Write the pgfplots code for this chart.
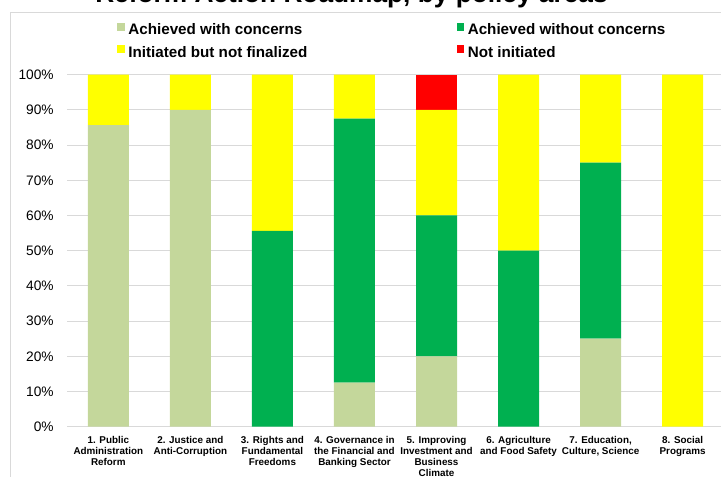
\documentclass[border=0pt]{standalone}
\usepackage{fontspec}
\setmainfont{Liberation Sans}
\usepackage{pgfplots}
\pgfplotsset{compat=1.18}
\definecolor{cwith}{HTML}{C4D79B}
\definecolor{cwithout}{HTML}{00B050}
\definecolor{cinit}{HTML}{FFFF00}
\definecolor{cnot}{HTML}{FF0000}
\definecolor{gridgray}{HTML}{D9D9D9}
\begin{document}
\begin{tikzpicture}
\draw[gridgray, line width=0.75pt] (7.5pt,-20pt) rectangle (560pt,348.5pt);
\node[anchor=base, inner sep=0pt, font=\fontsize{19.7}{22}\selectfont\bfseries] at (263.6pt,356.2pt) {Reform Action Roadmap, by policy areas};
\begin{axis}[
  at={(50.475pt,37.725pt)}, anchor=south west,
  scale only axis, width=492.3pt, height=264pt,
  ybar stacked, bar width=30.75pt,
  xmin=0.5, xmax=8.5, ymin=0, ymax=100,
  enlarge x limits=false, enlarge y limits=false,
  xtick={1,2,3,4,5,6,7,8},
  xticklabels={{1. Public\\Administration\\Reform},{2. Justice and\\Anti-Corruption},{3. Rights and\\Fundamental\\Freedoms},{4. Governance in\\the Financial and\\Banking Sector},{5. Improving\\Investment and\\Business\\Climate},{6. Agriculture\\and Food Safety},{7. Education,\\Culture, Science},{8. Social\\Programs}},
  ytick={0,10,...,100},
  yticklabel={\pgfmathprintnumber{\tick}\%},
  /pgf/number format/assume math mode=true,
  ymajorgrids, grid style={draw=gridgray, line width=0.75pt},
  axis x line*=bottom, axis y line*=left,
  x axis line style={draw=gridgray, line width=0.75pt, -},
  y axis line style={draw=none},
  major tick length=0pt,
  xtick style={draw=none}, ytick style={draw=none},
  yticklabel style={font=\fontsize{10.3}{12}\selectfont, inner sep=0pt, anchor=east, xshift=-10pt},
  xticklabel style={font=\fontsize{7.4}{8.4}\selectfont\bfseries, align=center, inner sep=0pt, anchor=north, yshift=-6.8pt},
  legend columns=2,
  legend image code/.code={\fill[#1] (0pt,0pt) rectangle (5.8pt,5.8pt);},
  legend style={draw=none, fill=none, inner sep=0pt, outer sep=0pt,
    at={(0.0762,1.1469)}, anchor=north west,
    font=\fontsize{11.4}{13}\selectfont\bfseries,
    row sep=5.8pt,
    nodes={inner sep=0pt, text height=8.25pt, text depth=2.25pt},
    /tikz/every odd column/.append style={column sep=2.5pt},
    /tikz/column 2/.append style={column sep=112pt}},
  legend cell align=left,
]
\addplot[fill=cwith, draw=none] coordinates {(1,85.7) (2,90) (3,0) (4,12.5) (5,20) (6,0) (7,25) (8,0)};
\addplot[fill=cwithout, draw=none] coordinates {(1,0) (2,0) (3,55.6) (4,75) (5,40) (6,50) (7,50) (8,0)};
\addplot[fill=cinit, draw=none] coordinates {(1,14.3) (2,10) (3,44.4) (4,12.5) (5,30) (6,50) (7,25) (8,100)};
\addplot[fill=cnot, draw=none] coordinates {(1,0) (2,0) (3,0) (4,0) (5,10) (6,0) (7,0) (8,0)};
\legend{Achieved with concerns, Achieved without concerns, Initiated but not finalized, Not initiated}
\end{axis}
\pgfresetboundingbox
\path[use as bounding box] (0pt,0pt) rectangle (540.75pt,357.75pt);
\end{tikzpicture}
\end{document}
